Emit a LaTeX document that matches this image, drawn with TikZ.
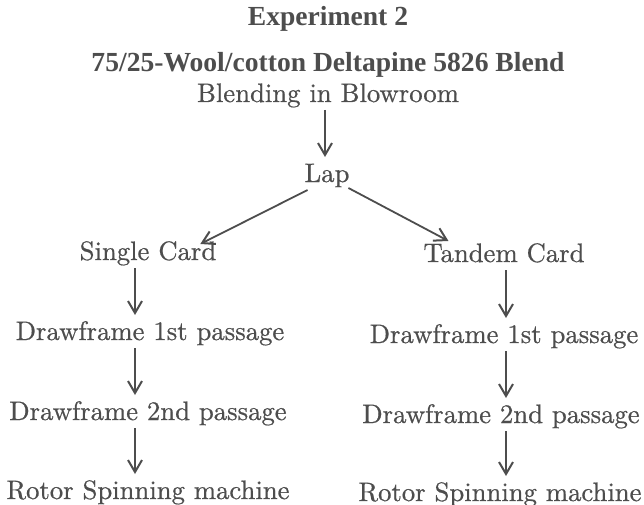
\documentclass[tikz,border=0pt]{standalone}
\usepackage{fontspec}
\newfontfamily\headfont{Liberation Serif}
\newfontfamily\bodyfont{lmroman10-regular.otf}[FakeBold=0.6,BoldFont=lmroman10-regular.otf]
\usetikzlibrary{arrows.meta}
\definecolor{ink}{HTML}{4D4D4D}
\begin{document}
\begin{tikzpicture}[x=1pt,y=-1pt,
  every node/.style={inner sep=0pt, outer sep=0pt, text=ink, anchor=base},
  lbl/.style={font=\bodyfont\bfseries\fontsize{26.7}{32}\selectfont, text height=18pt, text depth=6pt},
  head/.style={font=\headfont\bfseries\fontsize{27.6}{32}\selectfont},
  tipstyle/.style={-{Straight Barb[length=12pt,width=14pt,line width=2pt]}},
  flow/.style={draw=ink, line width=1.8pt, tipstyle, shorten <=2pt, shorten >=7pt},
  diag/.style={draw=ink, line width=1.8pt, tipstyle}]
\useasboundingbox (0,0) rectangle (644,505);
\node[head] (exp) at (328,26) {Experiment 2};
\node[head] (blend) at (328,72) {75/25-Wool/cotton Deltapine 5826 Blend};
\node[lbl] (blow) at (328,102) {Blending in Blowroom};
\node[lbl] (lap) at (327,182) {Lap};
\node[lbl] (scL) at (148,260) {Single Card};
\node[lbl] (tcR) at (504,262) {Tandem Card};
\node[lbl] (d1L) at (150,340) {Drawframe 1st passage};
\node[lbl] (d1R) at (504,343) {Drawframe 1st passage};
\node[lbl] (d2L) at (148,420) {Drawframe 2nd passage};
\node[lbl] (d2R) at (501,423) {Drawframe 2nd passage};
\node[lbl] (rsL) at (148,499) {Rotor Spinning machine};
\node[lbl] (rsR) at (500,501) {Rotor Spinning machine};
\coordinate (colM) at (325,0);
\coordinate (colL) at (135,0);
\coordinate (colR) at (506,0);
\draw[flow] (blow.south -| colM) -- (lap.north -| colM);
\draw[diag] ([shift={(3,2)}]lap.south west) -- ([shift={(-16,2)}]scL.north east);
\draw[diag] ([shift={(-1,0)}]lap.south east) -- ([shift={(25,-3)}]tcR.north west);
\draw[flow] (scL.south -| colL) -- (d1L.north -| colL);
\draw[flow] (d1L.south -| colL) -- (d2L.north -| colL);
\draw[flow] (d2L.south -| colL) -- (rsL.north -| colL);
\draw[flow] (tcR.south -| colR) -- (d1R.north -| colR);
\draw[flow] (d1R.south -| colR) -- (d2R.north -| colR);
\draw[flow] (d2R.south -| colR) -- (rsR.north -| colR);
\end{tikzpicture}
\end{document}
